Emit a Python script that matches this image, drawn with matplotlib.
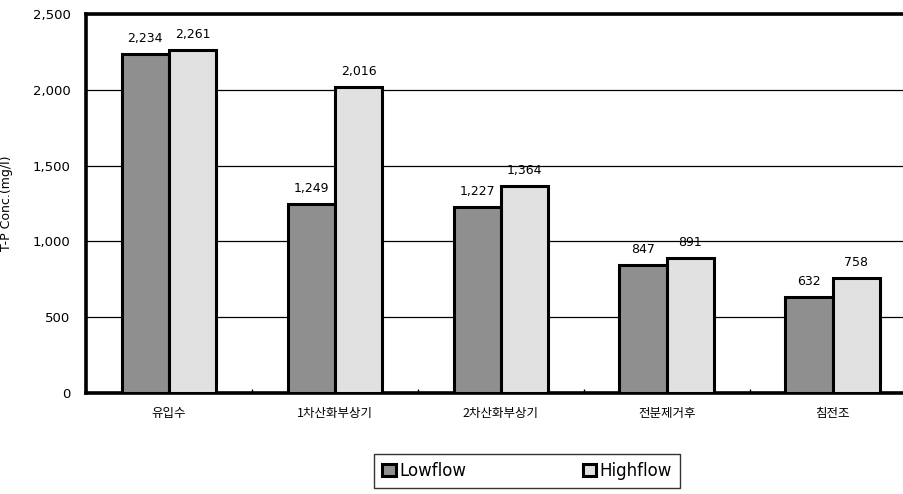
import matplotlib.pyplot as plt
import numpy as np

plt.rcParams['font.family'] = ['Noto Sans CJK KR', 'DejaVu Sans']

categories = ["유입수", "1차산화부상기", "2차산화부상기", "전분제거후", "침전조"]
lowflow = [2234, 1249, 1227, 847, 632]
highflow = [2261, 2016, 1364, 891, 758]
yticks = [0, 500, 1000, 1500, 2000, 2500]

LOW_COLOR = "#8f8f8f"
HIGH_COLOR = "#e1e1e1"

fig = plt.figure(figsize=(9.04, 4.94), dpi=100)
ax = fig.add_axes([0.095, 0.2045, 0.918, 0.767])

x = np.arange(len(categories))
w = 0.285
b1 = ax.bar(x - w / 2, lowflow, w, color=LOW_COLOR, edgecolor="black",
            linewidth=2.2, label="Lowflow", zorder=3)
b2 = ax.bar(x + w / 2, highflow, w, color=HIGH_COLOR, edgecolor="black",
            linewidth=2.2, label="Highflow", zorder=3)

# value labels above each bar
for bars, vals in ((b1, lowflow), (b2, highflow)):
    for rect, v in zip(bars, vals):
        ax.text(rect.get_x() + rect.get_width() / 2, v + 60, f"{v:,}",
                ha="center", va="bottom", fontsize=9, family="DejaVu Sans")

ax.set_xlim(-0.5, len(categories) - 0.5)
ax.set_ylim(0, 2500)
ax.set_yticks(yticks)
ax.set_yticklabels([f"{t:,}" for t in yticks], family="DejaVu Sans", fontsize=9.5)
ax.yaxis.grid(True, color="black", lw=0.9, zorder=1)
ax.tick_params(axis="y", length=0, pad=11)

ax.set_xticks(x)
ax.set_xticklabels(categories, fontsize=9)
ax.set_xticks(np.arange(len(categories) + 1) - 0.5, minor=True)
ax.tick_params(axis="x", which="major", length=0, pad=10)
ax.tick_params(axis="x", which="minor", direction="in", length=3, width=1)

for side in ("left", "top", "bottom", "right"):
    ax.spines[side].set_linewidth(2.6)

ax.set_ylabel("T-P Conc.(mg/l)", fontsize=9, family="DejaVu Sans")
ax.yaxis.set_label_coords(-0.088, 0.5)

fig.legend(handles=[b1, b2], loc="lower center", bbox_to_anchor=(0.583, 0.005),
           ncol=2, frameon=True, fancybox=False, edgecolor="black",
           handlelength=0.8, handleheight=0.8, columnspacing=7.0,
           handletextpad=0.2, borderpad=0.5, borderaxespad=0.2,
           prop={"family": "DejaVu Sans", "size": 12})

fig.savefig("out.png", dpi=100)
